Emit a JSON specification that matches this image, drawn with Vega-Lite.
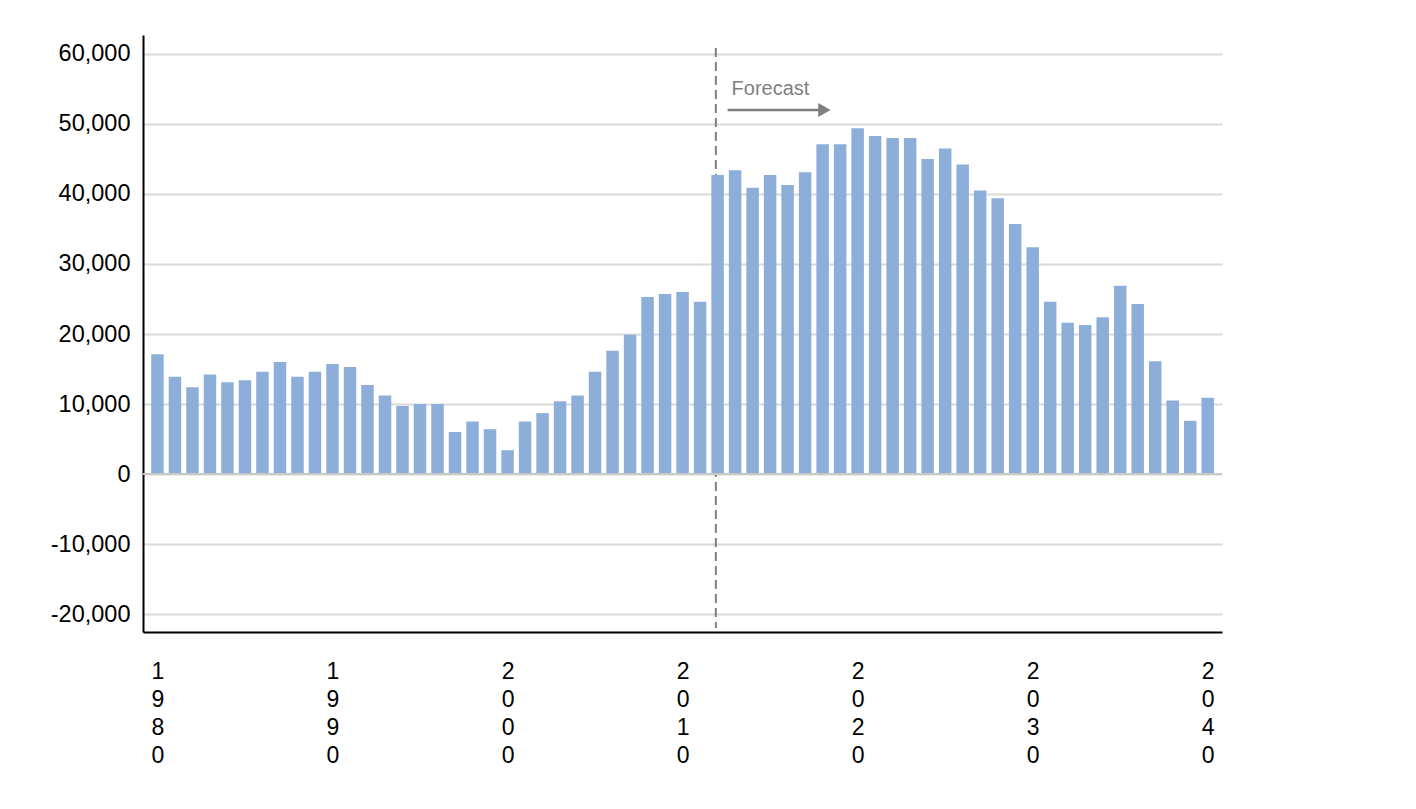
{
  "$schema": "https://vega.github.io/schema/vega-lite/v6.json",
  "width": 1079,
  "height": 597,
  "autosize": {"type": "none"},
  "padding": {"left": 143, "top": 35, "right": 194, "bottom": 177},
  "background": "white",
  "config": {
    "view": {"stroke": null},
    "font": "Liberation Sans"
  },
  "datasets": {
    "bars": [
      {"year": 1980, "value": 17100}, {"year": 1981, "value": 13900}, {"year": 1982, "value": 12400},
      {"year": 1983, "value": 14200}, {"year": 1984, "value": 13100}, {"year": 1985, "value": 13400},
      {"year": 1986, "value": 14600}, {"year": 1987, "value": 16000}, {"year": 1988, "value": 13900},
      {"year": 1989, "value": 14600}, {"year": 1990, "value": 15700}, {"year": 1991, "value": 15300},
      {"year": 1992, "value": 12700}, {"year": 1993, "value": 11200}, {"year": 1994, "value": 9700},
      {"year": 1995, "value": 10000}, {"year": 1996, "value": 10000}, {"year": 1997, "value": 6000},
      {"year": 1998, "value": 7500}, {"year": 1999, "value": 6400}, {"year": 2000, "value": 3400},
      {"year": 2001, "value": 7500}, {"year": 2002, "value": 8700}, {"year": 2003, "value": 10400},
      {"year": 2004, "value": 11200}, {"year": 2005, "value": 14600}, {"year": 2006, "value": 17600},
      {"year": 2007, "value": 19900}, {"year": 2008, "value": 25300}, {"year": 2009, "value": 25700},
      {"year": 2010, "value": 26000}, {"year": 2011, "value": 24600}, {"year": 2012, "value": 42700},
      {"year": 2013, "value": 43400}, {"year": 2014, "value": 40900}, {"year": 2015, "value": 42700},
      {"year": 2016, "value": 41300}, {"year": 2017, "value": 43100}, {"year": 2018, "value": 47100},
      {"year": 2019, "value": 47100}, {"year": 2020, "value": 49400}, {"year": 2021, "value": 48300},
      {"year": 2022, "value": 48000}, {"year": 2023, "value": 48000}, {"year": 2024, "value": 45000},
      {"year": 2025, "value": 46500}, {"year": 2026, "value": 44200}, {"year": 2027, "value": 40500},
      {"year": 2028, "value": 39400}, {"year": 2029, "value": 35700}, {"year": 2030, "value": 32400},
      {"year": 2031, "value": 24600}, {"year": 2032, "value": 21600}, {"year": 2033, "value": 21300},
      {"year": 2034, "value": 22400}, {"year": 2035, "value": 26900}, {"year": 2036, "value": 24300},
      {"year": 2037, "value": 16100}, {"year": 2038, "value": 10500}, {"year": 2039, "value": 7600},
      {"year": 2040, "value": 10900}
    ],
    "one": [{"label": "Forecast"}]
  },
  "layer": [
    {
      "data": {"name": "one"},
      "mark": {"type": "rule", "color": "#7F7F7F", "strokeWidth": 2, "strokeDash": [9, 5]},
      "encoding": {
        "x": {"datum": 2011.9, "type": "quantitative", "scale": {"domain": [1979.46, 2040.53], "nice": false, "zero": false}},
        "y": {"datum": 60857, "type": "quantitative", "scale": {"domain": [-22571, 62714], "nice": false, "zero": false}},
        "y2": {"datum": -22000}
      }
    },
    {
      "data": {"name": "bars"},
      "mark": {"type": "bar", "color": "#8EAEDA", "width": 12.5},
      "encoding": {
        "x": {
          "field": "year", "type": "quantitative",
          "scale": {"domain": [1979.46, 2040.53], "nice": false, "zero": false},
          "axis": {
            "title": null,
            "values": [1980, 1990, 2000, 2010, 2020, 2030, 2040],
            "format": "d",
            "labelExpr": "split(datum.label, '')",
            "labelFont": "Liberation Sans",
            "labelFontSize": 23,
            "labelColor": "#000000",
            "labelLineHeight": 28,
            "labelBaseline": "top",
            "labelAlign": "center",
            "labelPadding": 28,
            "ticks": false,
            "tickSize": 0,
            "grid": false,
            "domainColor": "#000000",
            "domainWidth": 2,
            "labelFlush": false,
            "labelOverlap": false
          }
        },
        "y": {
          "field": "value", "type": "quantitative",
          "scale": {"domain": [-22571, 62714], "nice": false, "zero": false},
          "axis": {
            "title": null,
            "values": [-20000, -10000, 0, 10000, 20000, 30000, 40000, 50000, 60000],
            "format": ",.0f",
            "labelExpr": "replace(datum.label, '\u2212', '-')",
            "labelFont": "Liberation Sans",
            "labelFontSize": 23.5,
            "labelColor": "#000000",
            "ticks": false,
            "tickSize": 0,
            "labelPadding": 13,
            "domainColor": "#000000",
            "domainWidth": 2,
            "grid": true,
            "gridColor": "#D9D9D9",
            "gridWidth": 2
          }
        }
      }
    },
    {
      "data": {"name": "one"},
      "mark": {"type": "rule", "color": "#C8C8C8", "strokeWidth": 2},
      "encoding": {
        "y": {"datum": 0, "type": "quantitative"}
      }
    },
    {
      "data": {"name": "one"},
      "mark": {"type": "text", "color": "#7F7F7F", "fontSize": 20, "align": "left", "baseline": "alphabetic", "font": "Liberation Sans"},
      "encoding": {
        "text": {"field": "label"},
        "x": {"datum": 2012.8, "type": "quantitative"},
        "y": {"datum": 54143, "type": "quantitative"}
      }
    },
    {
      "data": {"name": "one"},
      "mark": {"type": "rule", "color": "#7F7F7F", "strokeWidth": 2.5},
      "encoding": {
        "x": {"datum": 2012.57, "type": "quantitative"},
        "x2": {"datum": 2017.9},
        "y": {"datum": 52000, "type": "quantitative"}
      }
    },
    {
      "data": {"name": "one"},
      "mark": {"type": "point", "shape": "triangle-right", "filled": true, "color": "#7F7F7F", "size": 200, "opacity": 1},
      "encoding": {
        "x": {"datum": 2018.1, "type": "quantitative"},
        "y": {"datum": 52000, "type": "quantitative"}
      }
    }
  ]
}
